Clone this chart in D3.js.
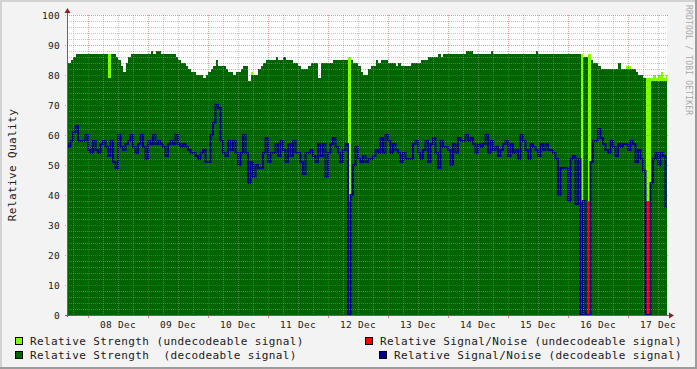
<!DOCTYPE html>
<html>
<head>
<meta charset="utf-8">
<script src="https://cdn.jsdelivr.net/npm/d3@7"></script>
<style>
  html, body { margin: 0; padding: 0; background: #f3f3f3; }
  svg { display: block; font-family: "DejaVu Sans Mono", monospace; }
  text { white-space: pre; }
</style>
</head>
<body>
<svg id="chart" width="697" height="369"></svg>
<script>
// ============ Data (one value per hour, first hour = 07 Dec 15:00) ============
// Relative Strength (decodeable signal)
const strength = [
  84, 84, 85, 86, 87, 87, 87, 87, 87, 87, 87, 87, 87, 87, 87, 87, 87, 79, 87, 87, 86, 85, 83, 81,
  84, 86, 87, 87, 87, 87, 87, 87, 87, 87, 88, 87, 88, 88, 87, 87, 87, 87, 87, 87, 86, 85, 84, 84,
  83, 82, 81, 81, 80, 80, 80, 79, 80, 81, 82, 83, 85, 83, 83, 83, 82, 81, 81, 80, 81, 81, 82, 83,
  83, 78, 80, 80, 80, 82, 83, 84, 85, 85, 85, 85, 86, 85, 85, 86, 85, 85, 85, 84, 84, 83, 82, 82,
  82, 83, 84, 84, 84, 79, 84, 84, 84, 84, 84, 85, 85, 85, 85, 85, 85, 0, 85, 84, 84, 83, 81, 80,
  80, 82, 83, 83, 85, 84, 85, 85, 85, 84, 84, 84, 83, 84, 83, 83, 83, 83, 84, 84, 84, 84, 85, 85,
  85, 86, 86, 86, 86, 87, 86, 87, 87, 87, 87, 87, 87, 87, 87, 87, 88, 88, 88, 87, 87, 87, 87, 87,
  87, 87, 88, 87, 87, 87, 87, 87, 87, 87, 87, 87, 87, 87, 87, 87, 87, 87, 87, 87, 88, 87, 87, 87,
  87, 87, 87, 87, 87, 87, 87, 87, 87, 87, 87, 87, 87, 87, 0, 86, 86, 0, 85, 84, 84, 83, 82, 82,
  82, 82, 82, 82, 82, 84, 82, 82, 82, 82, 82, 82, 81, 80, 80, 79, 0, 0, 78, 78, 78, 78, 78, 78,
  78
];
// Relative Signal/Noise (decodeable signal)
const snr = [
  57, 56, 58, 61, 63, 58, 58, 58, 60, 55, 54, 58, 55, 54, 57, 58, 56, 53, 58, 51, 49, 60, 56, 55,
  57, 58, 60, 56, 54, 57, 60, 56, 52, 58, 57, 60, 57, 58, 57, 56, 53, 57, 58, 57, 60, 57, 56, 57,
  56, 55, 54, 54, 53, 52, 54, 55, 51, 51, 60, 64, 70, 69, 58, 54, 53, 58, 55, 58, 54, 50, 54, 60,
  54, 44, 51, 46, 50, 49, 49, 54, 59, 51, 54, 54, 57, 53, 58, 55, 51, 57, 53, 58, 54, 54, 51, 47,
  54, 54, 55, 53, 51, 57, 53, 57, 46, 54, 57, 59, 56, 54, 51, 55, 57, 0, 40, 50, 56, 52, 51, 53,
  51, 52, 52, 53, 55, 54, 59, 54, 60, 58, 54, 57, 55, 54, 51, 54, 52, 52, 52, 57, 58, 54, 52, 55,
  58, 51, 57, 59, 54, 49, 58, 56, 56, 55, 50, 57, 54, 59, 58, 58, 60, 58, 59, 57, 54, 57, 56, 57,
  60, 54, 58, 55, 56, 53, 55, 57, 58, 53, 57, 54, 55, 52, 60, 58, 55, 52, 57, 56, 55, 53, 57, 55,
  57, 55, 55, 54, 52, 40, 49, 49, 49, 38, 52, 53, 37, 52, 0, 38, 0, 0, 51, 58, 58, 62, 59, 57,
  55, 54, 58, 56, 53, 57, 56, 57, 57, 55, 58, 57, 51, 55, 52, 48, 0, 0, 44, 52, 54, 50, 54, 53,
  36
];
// Undecodeable readings (hour index, strength, signal/noise)
const weakHours    = [17, 74, 113, 206, 209, 224, 225, 232, 233, 234, 235, 236, 237, 238, 239, 240];
const weakStrength = [87, 81, 86, 87, 87, 83, 83, 79, 79, 79, 80, 79, 80, 81, 79, 80];
const weakSnr      = [null, null, 38, 38, 38, null, null, 38, 38, null, null, null, null, null, null, null];

const yTicks = [0, 10, 20, 30, 40, 50, 60, 70, 80, 90, 100];

const legendItems = [
  { label: 'Relative Strength (undecodeable signal)', color: '#80ff00' },
  { label: 'Relative Strength  (decodeable signal)', color: '#006600' },
  { label: 'Relative Signal/Noise (undecodeable signal)', color: '#ff0000' },
  { label: 'Relative Signal/Noise (decodeable signal)', color: '#000088' }
];

// ============ Setup ============
const W = 697, H = 369;
const plot = { left: 67, top: 15, width: 600, height: 300 };
const HOUR = 3600e3;
const firstHour = Date.UTC(2012, 11, 7, 15);
const t0 = new Date(Date.UTC(2012, 11, 7, 15, 36));
const t1 = new Date(t0.getTime() + 240 * HOUR);
const hourTime = i => new Date(firstHour + i * HOUR);
const N = strength.length;

const x = d3.scaleUtc().domain([t0, t1]).range([plot.left, plot.left + plot.width]);
const y = d3.scaleLinear().domain([0, 100]).range([plot.top + plot.height, plot.top]);

const svg = d3.select('#chart');

// ── Frame ──
svg.append('rect').attr('width', W).attr('height', H).attr('fill', '#f3f3f3');
svg.append('rect').attr('x', 0).attr('y', 0).attr('width', W).attr('height', 2).attr('fill', '#d2d2d2');
svg.append('rect').attr('x', 0).attr('y', 0).attr('width', 2).attr('height', H).attr('fill', '#d2d2d2');
svg.append('rect').attr('x', W - 2).attr('y', 0).attr('width', 2).attr('height', H).attr('fill', '#9c9c9c');
svg.append('rect').attr('x', 0).attr('y', H - 2).attr('width', W).attr('height', 2).attr('fill', '#9c9c9c');

// canvas
svg.append('rect')
  .attr('x', plot.left).attr('y', plot.top)
  .attr('width', plot.width).attr('height', plot.height)
  .attr('fill', '#ffffff');

svg.append('defs').append('clipPath').attr('id', 'clip')
  .append('rect')
  .attr('x', plot.left).attr('y', plot.top)
  .attr('width', plot.width).attr('height', plot.height);

const g = svg.append('g').attr('clip-path', 'url(#clip)');

// ── Undecodeable strength (light green) ──
g.selectAll('rect.weak')
  .data(weakHours.map((h, k) => ({ h, v: weakStrength[k] })))
  .enter().append('rect')
  .attr('class', 'weak')
  .attr('x', d => x(hourTime(d.h)))
  .attr('width', d => x(hourTime(d.h + 1)) - x(hourTime(d.h)))
  .attr('y', d => y(d.v))
  .attr('height', d => y(0) - y(d.v))
  .attr('fill', '#80ff00')
  .attr('shape-rendering', 'crispEdges');

// ── Decodeable strength (dark green) ──
const idx = d3.range(N + 1);
const strengthArea = d3.area()
  .curve(d3.curveStepAfter)
  .x(i => x(hourTime(i)))
  .y0(y(0))
  .y1(i => y(strength[Math.min(i, N - 1)]));
g.append('path')
  .attr('d', strengthArea(idx))
  .attr('fill', '#006400')
  .attr('shape-rendering', 'crispEdges');

// ── Undecodeable signal/noise (red) ──
g.selectAll('rect.weaksnr')
  .data(weakHours.map((h, k) => ({ h, v: weakSnr[k] })).filter(d => d.v != null))
  .enter().append('rect')
  .attr('class', 'weaksnr')
  .attr('x', d => x(hourTime(d.h)))
  .attr('width', d => x(hourTime(d.h + 1)) - x(hourTime(d.h)))
  .attr('y', d => y(d.v))
  .attr('height', d => y(0) - y(d.v))
  .attr('fill', '#ff0000')
  .attr('shape-rendering', 'crispEdges');

// ── Decodeable signal/noise (blue line) ──
const snrLine = d3.line()
  .curve(d3.curveStepAfter)
  .x(i => x(hourTime(i)))
  .y(i => y(snr[Math.min(i, N - 1)]));
g.append('path')
  .attr('d', snrLine(idx))
  .attr('fill', 'none')
  .attr('stroke', '#00008a')
  .attr('stroke-width', 2);

// ── Grid (drawn over the graph, like rrdtool) ──
const grid = svg.append('g').attr('shape-rendering', 'crispEdges');
const minorColor = 'rgba(150,150,150,0.55)';
const majorColor = 'rgba(215,70,70,0.55)';

d3.utcHour.every(6).range(t0, t1).forEach(t => {
  const major = t.getUTCHours() === 0;
  grid.append('line')
    .attr('x1', Math.round(x(t)) + 0.5).attr('x2', Math.round(x(t)) + 0.5)
    .attr('y1', plot.top).attr('y2', plot.top + plot.height)
    .attr('stroke', major ? majorColor : minorColor)
    .attr('stroke-dasharray', '1,1');
});
d3.range(2, 101, 2).forEach(v => {
  const major = v % 10 === 0;
  grid.append('line')
    .attr('x1', plot.left + (major ? -2 : 0)).attr('x2', plot.left + plot.width + (major ? 2 : 0))
    .attr('y1', Math.round(y(v)) + 0.5).attr('y2', Math.round(y(v)) + 0.5)
    .attr('stroke', major ? majorColor : minorColor)
    .attr('stroke-dasharray', '1,1');
});

// ── Axes ──
const axisColor = '#666666';
const arrowColor = '#902020';
const y0 = y(0) + 0.5;
svg.append('line')
  .attr('x1', plot.left - 2).attr('x2', plot.left + plot.width + 3)
  .attr('y1', y0).attr('y2', y0)
  .attr('stroke', axisColor);
svg.append('line')
  .attr('x1', plot.left + 0.5).attr('x2', plot.left + 0.5)
  .attr('y1', y(0) + 2).attr('y2', plot.top - 4)
  .attr('stroke', axisColor);
svg.append('path')
  .attr('d', `M${plot.left + plot.width + 2},${y0 - 3} L${plot.left + plot.width + 7},${y0} L${plot.left + plot.width + 2},${y0 + 3} Z`)
  .attr('fill', arrowColor);
svg.append('path')
  .attr('d', `M${plot.left - 2.5},${plot.top - 2} L${plot.left + 0.5},${plot.top - 7} L${plot.left + 3.5},${plot.top - 2} Z`)
  .attr('fill', arrowColor);

// day ticks under the axis
d3.utcDay.range(t0, t1).forEach(t => {
  svg.append('line')
    .attr('x1', Math.round(x(t)) + 0.5).attr('x2', Math.round(x(t)) + 0.5)
    .attr('y1', y(0)).attr('y2', y(0) + 3)
    .attr('stroke', 'rgba(205,60,60,0.6)');
});

// x labels: centred on noon of each day
const fmt = d3.utcFormat('%d %b');
svg.append('g').selectAll('text')
  .data(d3.utcDay.range(t0, t1).map(d => new Date(d.getTime() + 12 * HOUR)).filter(d => d < t1))
  .enter().append('text')
  .attr('x', d => x(d))
  .attr('y', 328)
  .attr('text-anchor', 'middle')
  .attr('font-size', '9.5px')
  .attr('letter-spacing', '0.3px')
  .attr('fill', '#1a1a1a')
  .text(d => fmt(d));

// y labels
svg.append('g').selectAll('text')
  .data(yTicks)
  .enter().append('text')
  .attr('x', 60)
  .attr('y', d => y(d) + 3.5)
  .attr('text-anchor', 'end')
  .attr('font-size', '9.5px')
  .attr('letter-spacing', '0.3px')
  .attr('fill', '#1a1a1a')
  .text(d => d);

// y title
svg.append('text')
  .attr('transform', `translate(16,${plot.top + plot.height / 2}) rotate(-90)`)
  .attr('text-anchor', 'middle')
  .attr('font-size', '11px')
  .attr('letter-spacing', '0.4px')
  .attr('fill', '#1a1a1a')
  .text('Relative Quality');

// watermark
svg.append('text')
  .attr('transform', 'translate(686,5) rotate(90)')
  .attr('font-size', '8px')
  .attr('letter-spacing', '0.2px')
  .attr('fill', '#a8a8a8')
  .text('RRDTOOL / TOBI OETIKER');

// ── Legend ──
const legendPos = [
  { sx: 15.5, sy: 337.5 },
  { sx: 15.5, sy: 351.5 },
  { sx: 365.5, sy: 337.5 },
  { sx: 379.5, sy: 351.5 }
];
const leg = svg.append('g').selectAll('g')
  .data(legendItems).enter().append('g');
leg.append('rect')
  .attr('x', (d, i) => legendPos[i].sx)
  .attr('y', (d, i) => legendPos[i].sy)
  .attr('width', 7).attr('height', 7)
  .attr('fill', d => d.color)
  .attr('stroke', '#000')
  .attr('stroke-width', 1);
leg.append('text')
  .attr('x', (d, i) => legendPos[i].sx + 14.5)
  .attr('y', (d, i) => legendPos[i].sy + 7.5)
  .attr('font-size', '11px')
  .attr('letter-spacing', '0.4px')
  .attr('fill', '#1a1a1a')
  .text(d => d.label);
</script>
</body>
</html>
